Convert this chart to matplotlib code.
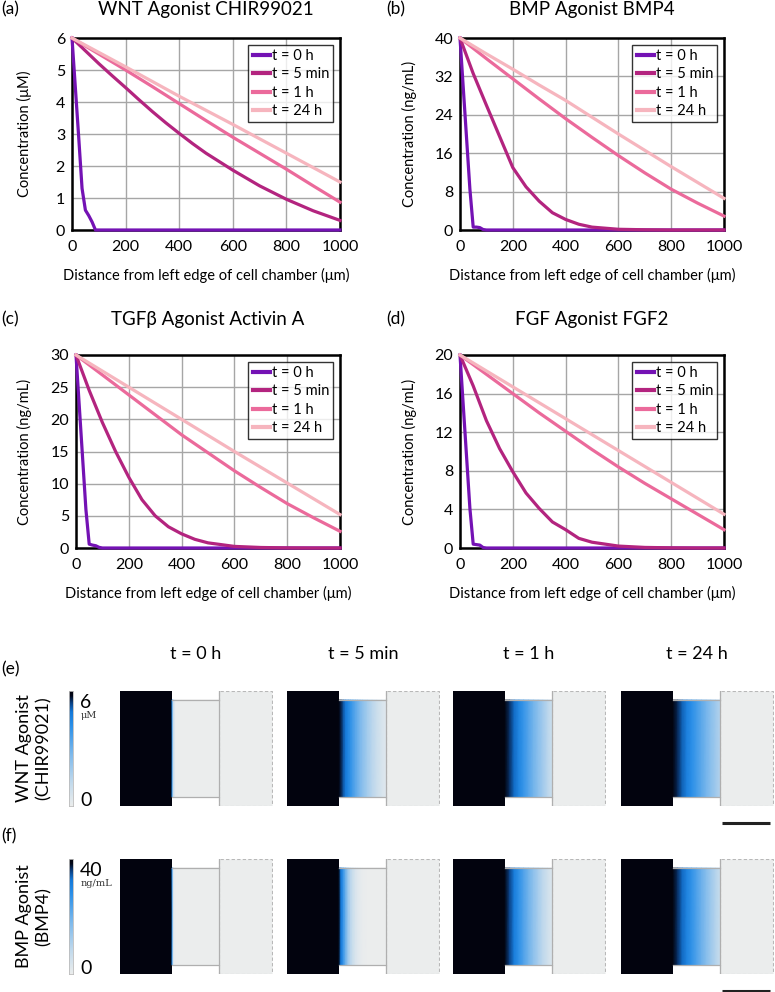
import numpy as np
import matplotlib
matplotlib.use('Agg')
import matplotlib.pyplot as plt
from matplotlib.colors import LinearSegmentedColormap
from matplotlib.patches import Rectangle

plt.rcParams['font.family'] = ['Lato', 'DejaVu Sans']

# ---- data ----
times = ['t = 0 h', 't = 5 min', 't = 1 h', 't = 24 h']
line_cols = ['#7412B4', '#B3247F', '#EB6A9B', '#F6B5BE']

x_t0 = [0, 12.5, 25, 37.5, 50, 62.5, 75, 87.5, 100, 200, 400, 600, 800, 1000]
x_5m = [0, 50, 100, 150, 200, 250, 300, 350, 400, 450, 500, 600, 700, 800, 900, 1000]
x_1h = [0, 100, 200, 300, 400, 500, 600, 700, 800, 900, 1000]
x_24h = [0, 100, 200, 300, 400, 500, 600, 700, 800, 900, 1000]
xs = [x_t0, x_5m, x_1h, x_24h]

wnt_t0 = [6, 4.45, 2.9, 1.3, 0.62, 0.45, 0.25, 0.0, 0.0, 0, 0, 0, 0, 0]
wnt_5m = [6, 5.6, 5.2, 4.82, 4.45, 4.07, 3.7, 3.35, 3.02, 2.7, 2.4, 1.87, 1.38, 0.96, 0.6, 0.3]
wnt_1h = [6, 5.5, 5.0, 4.48, 3.95, 3.42, 2.9, 2.4, 1.9, 1.38, 0.87]
wnt_24h = [6, 5.55, 5.1, 4.64, 4.18, 3.74, 3.3, 2.85, 2.4, 1.95, 1.5]

bmp_t0 = [40, 29.5, 19, 8.5, 0.6, 0.6, 0.5, 0.1, 0, 0, 0, 0, 0, 0]
bmp_5m = [40, 32.6, 26, 19.5, 13, 9, 6, 3.6, 2.2, 1.2, 0.6, 0.15, 0.05, 0, 0, 0]
bmp_1h = [40, 35.7, 31.5, 27.3, 23.2, 19.3, 15.5, 11.9, 8.5, 5.6, 2.9]
bmp_24h = [40, 36.7, 33.5, 30.2, 27, 23.5, 20, 16.6, 13.2, 9.9, 6.6]

tgf_t0 = [30, 22, 14, 6, 0.6, 0.45, 0.35, 0.1, 0, 0, 0, 0, 0, 0]
tgf_5m = [30, 24.5, 19.5, 15, 11, 7.5, 5, 3.3, 2.2, 1.35, 0.8, 0.25, 0.08, 0.02, 0, 0]
tgf_1h = [30, 26.9, 23.8, 20.7, 17.6, 14.8, 12, 9.4, 6.9, 4.7, 2.6]
tgf_24h = [30, 27.5, 25, 22.5, 20, 17.5, 15, 12.55, 10.1, 7.65, 5.2]

fgf_t0 = [20, 14.7, 9.4, 4.1, 0.4, 0.35, 0.3, 0.05, 0, 0, 0, 0, 0, 0]
fgf_5m = [20, 16.8, 13.2, 10.3, 7.9, 5.7, 4.1, 2.7, 1.9, 1.0, 0.6, 0.2, 0.06, 0.02, 0, 0]
fgf_1h = [20, 18, 16, 14, 12.1, 10.2, 8.4, 6.7, 5.1, 3.5, 1.9]
fgf_24h = [20, 18.35, 16.7, 15.05, 13.4, 11.75, 10.1, 8.45, 6.8, 5.15, 3.5]

W, H = 775, 992


def rect(l, t, r, b):
    return [l / W, 1 - b / H, (r - l) / W, (b - t) / H]


fig = plt.figure(figsize=(W / 100, H / 100), dpi=100)

panels = [
    ('(a)', 'WNT Agonist CHIR99021', 'Concentration (\u03bcM)', 6, 1,
     [wnt_t0, wnt_5m, wnt_1h, wnt_24h], (72, 38, 340, 230), 0),
    ('(b)', 'BMP Agonist BMP4', 'Concentration (ng/mL)', 40, 8,
     [bmp_t0, bmp_5m, bmp_1h, bmp_24h], (460, 38, 724, 230), 385),
    ('(c)', 'TGF\u03b2 Agonist Activin A', 'Concentration (ng/mL)', 30, 5,
     [tgf_t0, tgf_5m, tgf_1h, tgf_24h], (76, 355, 340, 548), 0),
    ('(d)', 'FGF Agonist FGF2', 'Concentration (ng/mL)', 20, 4,
     [fgf_t0, fgf_5m, fgf_1h, fgf_24h], (460, 355, 724, 548), 385),
]

for letter, title, ylab, ymax, ystep, series, box, x0 in panels:
    l, t, r, b = box
    ax = fig.add_axes(rect(l, t, r, b))
    for xv, yv, c, lab in zip(xs, series, line_cols, times):
        ax.plot(xv, yv, color=c, lw=2.3, label=lab, clip_on=False, zorder=3)
    ax.set_xlim(0, 1000)
    ax.set_ylim(0, ymax)
    ax.set_xticks(np.arange(0, 1001, 200))
    ax.set_yticks(np.arange(0, ymax + 0.1, ystep))
    ax.grid(color='#A6A6A6', lw=1.0)
    ax.set_axisbelow(True)
    for s in ax.spines.values():
        s.set_linewidth(1.8)
        s.set_color('black')
    ax.tick_params(length=0, labelsize=11.5)
    ax.tick_params(axis='x', pad=7)
    ax.tick_params(axis='y', pad=5)
    ax.set_xlabel('Distance from left edge of cell chamber (\u03bcm)', fontsize=10.5, va='center')
    ax.set_ylabel(ylab, fontsize=10.5, va='center')
    ax.xaxis.set_label_coords(0.5, -45 / (b - t))
    ax.yaxis.set_label_coords((x0 + 24 - l) / (r - l), 0.5)
    leg = ax.legend(loc='upper right', fontsize=10.5, frameon=True, fancybox=False,
                    handlelength=1.2, handletextpad=0.1, borderpad=0.3,
                    labelspacing=0.3, borderaxespad=0.45)
    leg.get_frame().set_edgecolor('black')
    leg.get_frame().set_linewidth(1.0)
    for h in leg.get_lines():
        h.set_linewidth(3)
    ty = 9 if t < 100 else 319
    fig.text((l + r) / 2 / W, 1 - ty / H, title, ha='center', va='center', fontsize=13.5)
    fig.text((x0 + 1) / W, 1 - ty / H, letter, ha='left', va='center', fontsize=12.5)

# ---- heat map rows (e), (f) ----
cmap = LinearSegmentedColormap.from_list('conc', [
    (0.0, '#EBEDED'), (0.2, '#C2DAEC'), (0.45, '#7DB9EC'), (0.7, '#2A8FE8'),
    (0.82, '#1478D8'), (0.9, '#0A3E80'), (0.96, '#03081A'), (1.0, '#02030D')])

rows = [
    ('(e)', 'WNT Agonist\n(CHIR99021)', 6, '6', '\u03bcM', [wnt_t0, wnt_5m, wnt_1h, wnt_24h], 691, 806, 669),
    ('(f)', 'BMP Agonist\n(BMP4)', 40, '40', 'ng/mL', [bmp_t0, bmp_5m, bmp_1h, bmp_24h], 859, 974, 836),
]
col_left = [120, 287, 453, 621]

for j, lab in enumerate(times):
    fig.text((col_left[j] + 76) / W, 1 - 654 / H, lab, ha='center', va='center', fontsize=13)

for letter, rlab, vmax, top_lab, unit, series, yt, yb, ly in rows:
    fig.text(1 / W, 1 - ly / H, letter, ha='left', va='center', fontsize=12.5)
    fig.text(34 / W, 1 - (yt + yb) / 2 / H, rlab, ha='center', va='center',
             rotation=90, fontsize=13, linespacing=1.3)

    cax = fig.add_axes(rect(69, yt, 73, yb))
    grad = np.linspace(0, vmax, 256).reshape(-1, 1)
    cax.imshow(grad, cmap=cmap, vmin=0, vmax=vmax, aspect='auto', origin='lower',
               extent=[0, 1, 0, vmax])
    cax.set_xticks([])
    cax.set_yticks([])
    for s in cax.spines.values():
        s.set_color('#BBBBBB')
        s.set_linewidth(0.6)
    fig.text(80 / W, 1 - (yt + 11) / H, top_lab, ha='left', va='center', fontsize=14)
    fig.text(81 / W, 1 - (yt + 25) / H, unit, ha='left', va='center', fontsize=7,
             family=['DejaVu Serif'], color='#333333')
    fig.text(80 / W, 1 - (yb - 6) / H, '0', ha='left', va='center', fontsize=14)

    for j, (xv, yv) in enumerate(zip(xs, series)):
        ax = fig.add_axes(rect(col_left[j], yt, col_left[j] + 153, yb))
        ax.set_xlim(-1080, 2120)
        ax.set_ylim(-1200, 1200)
        ax.axis('off')
        ax.add_patch(Rectangle((-1080, -1200), 1080, 2400, fc='#02030E', ec='none', zorder=1))
        ax.add_patch(Rectangle((1000, -1200), 1100, 2400, fc='#EBEDED', ec='#B8B8B8',
                               ls=(0, (3, 2)), lw=0.8, zorder=1))
        X, Y = np.meshgrid(xv, [-1010, 1010])
        C = np.vstack([yv, yv])
        ax.pcolormesh(X, Y, C, cmap=cmap, vmin=0, vmax=vmax, shading='gouraud',
                      antialiased=False, zorder=2)
        ax.plot([0, 1000], [1020, 1020], color='#AFAFAF', lw=0.9, zorder=4)
        ax.plot([0, 1000], [-1020, -1020], color='#AFAFAF', lw=0.9, zorder=4)
        ax.plot([1000, 1000], [-1200, 1200], color='#AFAFAF', lw=0.9, zorder=4)
        if j == 3:
            ax.plot([1030, 2030], [-1560, -1560], color='#222222', lw=2.2,
                    clip_on=False, solid_capstyle='butt')

fig.savefig('out.png', dpi=100)
